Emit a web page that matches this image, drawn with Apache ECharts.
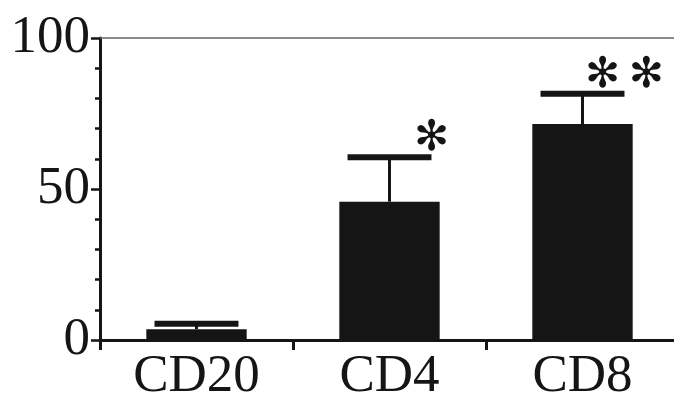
<!DOCTYPE html>
<html>
<head>
<meta charset="utf-8">
<script src="https://cdn.jsdelivr.net/npm/echarts@6/dist/echarts.min.js"></script>
<style>
html,body{margin:0;padding:0;background:#fff;}
#chart{width:674px;height:394px;}
</style>
</head>
<body>
<div id="chart"></div>
<script>
const categories = ['CD20', 'CD4', 'CD8'];
const means = [3.6, 45.8, 71.5];
const errors = [1.8, 14.7, 10.0];
const significance = ['', '\u273B', '\u273B\u2009\u273B'];
const yTicks = [0, 50, 100];

const INK = '#151515';
const SERIF = '"Liberation Serif", "Times New Roman", serif';

const chart = echarts.init(document.getElementById('chart'), null, {renderer: 'canvas'});

const errData = categories.map((c, i) => [i, means[i], errors[i]]);

chart.setOption({
  animation: false,
  backgroundColor: '#ffffff',
  grid: {left: 100, top: 38, width: 579, height: 302, containLabel: false, outerBoundsMode: 'none'},
  xAxis: [{
    type: 'category',
    data: categories,
    boundaryGap: true,
    axisLine: {show: true, lineStyle: {color: INK, width: 3}},
    axisTick: {show: true, interval: 0, length: 10, lineStyle: {color: INK, width: 3}},
    axisLabel: {fontFamily: SERIF, fontSize: 53, color: INK, margin: 11, interval: 0}
  }, {
    type: 'category',
    data: categories,
    position: 'top',
    axisLine: {show: true, lineStyle: {color: '#666', width: 1.5}},
    axisTick: {show: false},
    axisLabel: {show: false}
  }],
  yAxis: {
    type: 'value',
    min: 0,
    max: 100,
    interval: 50,
    axisLine: {show: true, lineStyle: {color: INK, width: 3}},
    axisTick: {show: true, length: 9, lineStyle: {color: INK, width: 2.5}},
    minorTick: {show: true, splitNumber: 5, length: 5, lineStyle: {color: INK, width: 2.5}},
    splitLine: {show: false},
    axisLabel: {
      fontFamily: SERIF, fontSize: 53, color: INK, margin: 10,
      padding: [0, 0, 9, 0],
      formatter: v => yTicks.includes(v) ? String(v) : ''
    }
  },
  series: [{
    type: 'bar',
    data: means,
    barWidth: '52%',
    itemStyle: {color: INK},
    z: 2
  }, {
    type: 'custom',
    data: errData,
    z: 3,
    renderItem: function (params, api) {
      const x = api.value(0), m = api.value(1), e = api.value(2);
      const sig = significance[params.dataIndex];
      const p0 = api.coord([x, m]);
      const p1 = api.coord([x, m + e]);
      const bw = api.size([1, 0])[0];
      const capW = bw * 0.435;
      const children = [{
        type: 'line',
        shape: {x1: p0[0], y1: p0[1], x2: p1[0], y2: p1[1]},
        style: {stroke: INK, lineWidth: 3}
      }, {
        type: 'rect',
        shape: {x: p1[0] - capW / 2, y: p1[1] - 3, width: capW, height: 6},
        style: {fill: INK}
      }];
      if (sig) {
        children.push({
          type: 'text',
          style: {
            text: sig,
            x: p1[0] + capW / 2,
            y: p1[1] - 18,
            align: 'center',
            verticalAlign: 'middle',
            fontFamily: '"DejaVu Sans", sans-serif',
            fontSize: 42,
            fill: INK
          }
        });
      }
      return {type: 'group', children: children};
    }
  }]
});
</script>
</body>
</html>
